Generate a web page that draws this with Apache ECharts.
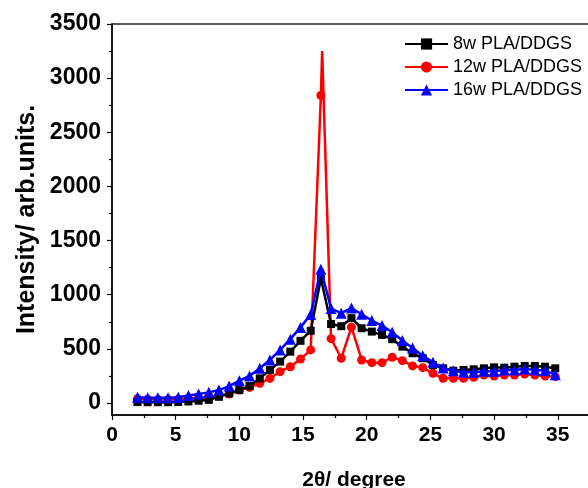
<!DOCTYPE html>
<html>
<head>
<meta charset="utf-8">
<script src="https://cdn.jsdelivr.net/npm/echarts@6/dist/echarts.min.js"></script>
<style>html,body{margin:0;padding:0;background:#fff}#c{width:588px;height:488px}</style>
</head>
<body>
<div id="c"></div>
<script>
// 2θ positions of the plotted markers
var twoTheta = [2.0,2.8,3.6,4.4,5.2,6.0,6.8,7.6,8.4,9.2,10.0,10.8,11.6,12.4,13.2,14.0,14.8,15.6,16.4,17.2,18.0,18.8,19.6,20.4,21.2,22.0,22.8,23.6,24.4,25.2,26.0,26.8,27.6,28.4,29.2,30.0,30.8,31.6,32.4,33.2,34.0,34.8];
var w8 = [10,8,8,8,10,15,22,30,58,90,120,157,228,306,383,475,575,668,1150,730,710,784,691,660,630,590,521,460,414,352,321,299,306,312,321,330,327,336,343,343,336,321];
var w12 = [40,35,32,32,35,42,48,58,68,84,120,145,182,228,290,336,406,491,2840,595,414,701,398,373,373,423,392,343,327,275,229,229,229,238,259,250,259,259,268,259,250,244];
var w16 = [55,50,50,50,55,70,83,99,120,157,207,250,321,398,491,590,699,818,1235,873,830,878,820,762,716,654,577,509,438,377,324,299,284,284,293,293,306,306,315,306,299,262];
// extra sharp apex of the 12w peak (no marker)
var w12ApexX = 16.5, w12ApexY = 3250;
var legendNames = ['8w PLA/DDGS','12w PLA/DDGS','16w PLA/DDGS'];
var xTicks = [0,5,10,15,20,25,30,35];
var yTicks = [0,500,1000,1500,2000,2500,3000,3500];

function pairs(ys){ return twoTheta.map(function(x,i){ return [x, ys[i]]; }); }
var red = pairs(w12);
var peakIdx = twoTheta.indexOf(16.4);
red.splice(peakIdx+1, 0, {value:[w12ApexX, w12ApexY], symbol:'none'});

var F = '"Liberation Sans", Arial, sans-serif';
var FS = 21;
var chart = echarts.init(document.getElementById('c'));
chart.setOption({
  animation:false,
  backgroundColor:'#fff',
  grid:[
    {left:112, right:-8, top:24, bottom:73, outerBoundsMode:'none', containLabel:false, show:true, borderColor:'#222', borderWidth:1.5, backgroundColor:'transparent'},
    {left:112, right:-8, top:24, bottom:85, outerBoundsMode:'none', containLabel:false, show:false}
  ],
  legend:{
    left:399, top:30, orient:'vertical', itemWidth:43, itemHeight:14, itemGap:5,
    textStyle:{fontFamily:F, fontSize:18, color:'#000'},
    data:legendNames
  },
  xAxis:[{
    gridIndex:0, type:'value', min:0, max:38, interval:5,
    name:'2θ/ degree', nameLocation:'middle', nameGap:55,
    nameTextStyle:{fontFamily:F, fontSize:FS, fontWeight:'bold', color:'#000'},
    axisLine:{show:true, onZero:false, lineStyle:{color:'#000', width:1.5}},
    axisTick:{show:true, inside:false, length:5, lineStyle:{color:'#000', width:1.2}},
    minorTick:{show:true, splitNumber:2, length:3, lineStyle:{color:'#000', width:1.2}},
    splitLine:{show:false},
    axisLabel:{fontFamily:F, fontSize:FS, fontWeight:'bold', color:'#000', margin:10,
      formatter:function(v){ return xTicks.indexOf(v) >= 0 ? String(v) : ''; }}
  },{
    gridIndex:1, type:'value', min:0, max:38, show:false
  }],
  yAxis:[{
    gridIndex:0, type:'value', min:-110, max:3500,
    name:'Intensity/ arb.units.', nameLocation:'middle', nameGap:72,
    nameTextStyle:{fontFamily:F, fontSize:25, fontWeight:'bold', color:'#000'},
    axisLine:{show:true, onZero:false, lineStyle:{color:'#000', width:1.5}},
    axisTick:{show:false}, axisLabel:{show:false}, splitLine:{show:false}
  },{
    gridIndex:1, type:'value', min:0, max:3500, interval:500,
    axisLine:{show:false},
    axisTick:{show:true, inside:false, length:5, lineStyle:{color:'#000', width:1.2}},
    minorTick:{show:true, splitNumber:2, length:3, lineStyle:{color:'#000', width:1.2}},
    splitLine:{show:false},
    axisLabel:{fontFamily:F, fontSize:23, fontWeight:'bold', color:'#000', margin:11,
      formatter:function(v){ return yTicks.indexOf(v) >= 0 ? String(v) : ''; }}
  }],
  series:[
    {name:legendNames[0], type:'line', data:pairs(w8), symbol:'rect', symbolSize:8,
     itemStyle:{color:'#000'}, lineStyle:{color:'#000', width:2.5}, z:3},
    {name:legendNames[1], type:'line', data:red, symbol:'circle', symbolSize:9,
     itemStyle:{color:'#ff0000'}, lineStyle:{color:'#ff0000', width:2.5}, z:2},
    {name:legendNames[2], type:'line', data:pairs(w16), symbol:'triangle', symbolSize:11,
     itemStyle:{color:'#0000ff'}, lineStyle:{color:'#0000ff', width:2.5}, z:4}
  ]
});
</script>
</body>
</html>
